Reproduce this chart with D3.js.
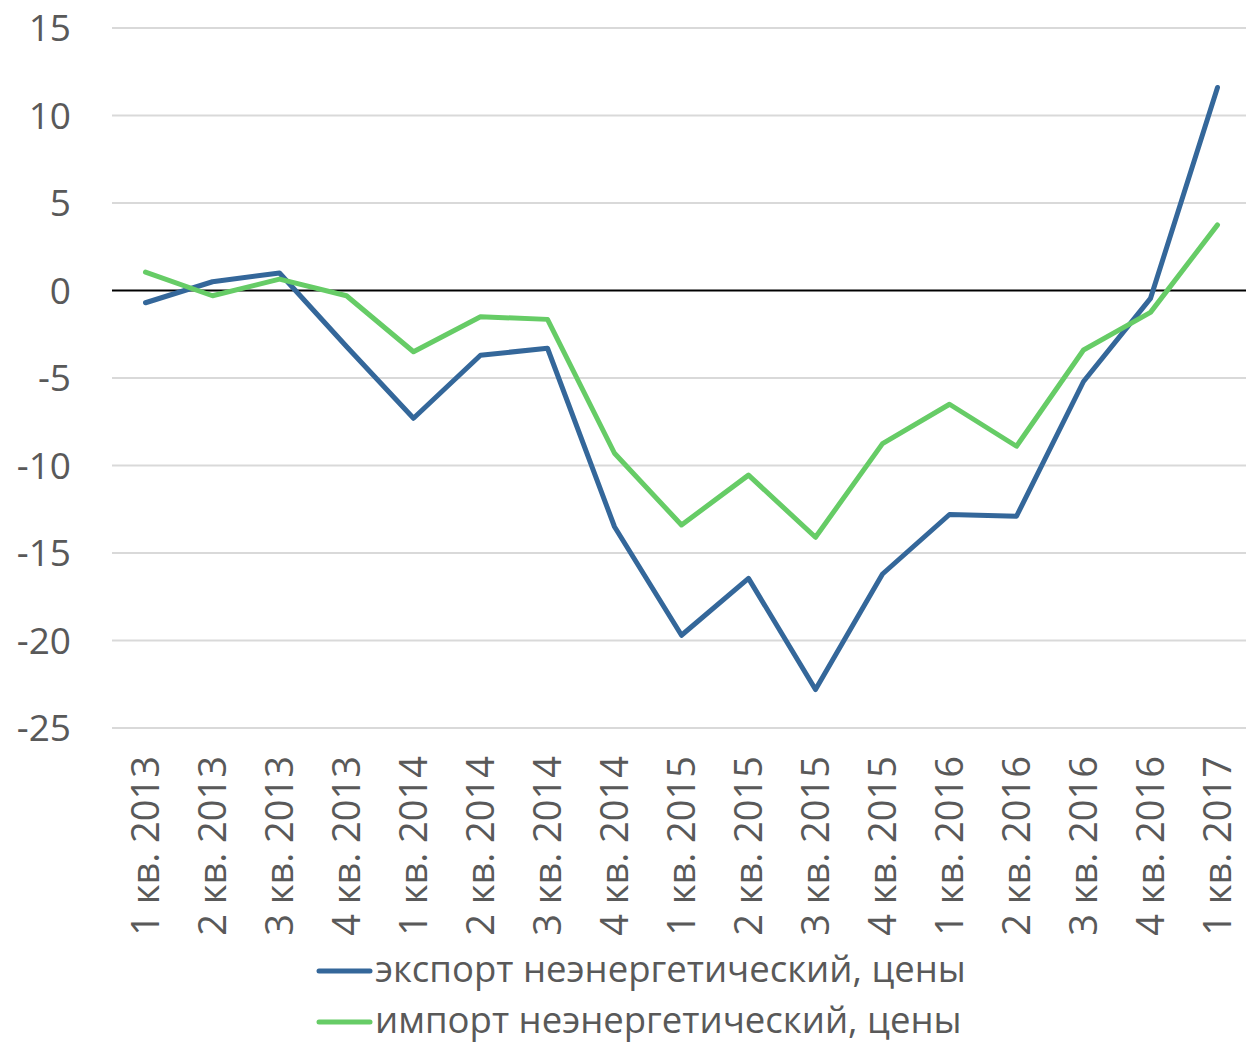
<!DOCTYPE html>
<html>
<head>
<meta charset="utf-8">
<script src="https://cdn.jsdelivr.net/npm/d3@7"></script>
<style>
  body { margin: 0; background: #fff; }
  svg text { font-family: "Open Sans", "Noto Sans", sans-serif; fill: #595959; }
</style>
</head>
<body>
<div id="chart"></div>
<script>
// quarters on the x axis
const quarters = [
    "1 кв. 2013", "2 кв. 2013", "3 кв. 2013", "4 кв. 2013",
    "1 кв. 2014", "2 кв. 2014", "3 кв. 2014", "4 кв. 2014",
    "1 кв. 2015", "2 кв. 2015", "3 кв. 2015", "4 кв. 2015",
    "1 кв. 2016", "2 кв. 2016", "3 кв. 2016", "4 кв. 2016",
    "1 кв. 2017"
];

const exportPrices = [-0.7, 0.5, 1.0, -3.2, -7.3, -3.7, -3.3, -13.5, -19.7, -16.45, -22.8, -16.2, -12.8, -12.9, -5.2, -0.45, 11.6];
const importPrices = [1.05, -0.3, 0.65, -0.3, -3.5, -1.5, -1.65, -9.3, -13.4, -10.55, -14.1, -8.75, -6.5, -8.9, -3.4, -1.25, 3.75];

const yTicks = [15, 10, 5, 0, -5, -10, -15, -20, -25];

const seriesNames = ["экспорт неэнергетический, цены", "импорт неэнергетический, цены"];
const seriesColors = ["#34679a", "#66cc66"];

function draw() {
    const W = 1246, H = 1045;
    const margin = { top: 28, left: 112, bottom: 317 };
    const plotRight = 1251;

    const svg = d3.select("#chart")
        .append("svg")
        .attr("width", W)
        .attr("height", H);

    const x = d3.scaleBand()
        .domain(quarters)
        .range([margin.left, plotRight]);

    const y = d3.scaleLinear()
        .domain([-25, 15])
        .range([H - margin.bottom, margin.top]);

    // horizontal gridlines
    svg.append("g")
        .selectAll("line")
        .data(yTicks.filter(d => d !== 0))
        .join("line")
        .attr("x1", margin.left)
        .attr("x2", plotRight)
        .attr("y1", d => y(d))
        .attr("y2", d => y(d))
        .attr("stroke", "#d9d9d9")
        .attr("stroke-width", 2);

    // y labels
    svg.append("g")
        .selectAll("text")
        .data(yTicks)
        .join("text")
        .attr("x", 71)
        .attr("y", d => y(d))
        .attr("dy", "0.36em")
        .attr("text-anchor", "end")
        .style("font-size", "37px")
        .text(d => d);

    // zero axis
    svg.append("line")
        .attr("x1", margin.left)
        .attr("x2", plotRight)
        .attr("y1", y(0))
        .attr("y2", y(0))
        .attr("stroke", "#000")
        .attr("stroke-width", 2);

    // x labels, rotated
    svg.append("g")
        .selectAll("text")
        .data(quarters)
        .join("text")
        .attr("transform", d => `translate(${x(d) + x.bandwidth() / 2},${y(-25) + 28}) rotate(-90)`)
        .attr("dy", "0.36em")
        .attr("text-anchor", "end")
        .style("font-size", "38px")
        .text(d => d);

    const line = d3.line()
        .x((d, i) => x(quarters[i]) + x.bandwidth() / 2)
        .y(d => y(d));

    [exportPrices, importPrices].forEach((vals, k) => {
        svg.append("path")
            .datum(vals)
            .attr("fill", "none")
            .attr("stroke", seriesColors[k])
            .attr("stroke-width", 5)
            .attr("stroke-linejoin", "round")
            .attr("stroke-linecap", "round")
            .attr("d", line);
    });

    // legend
    const legend = svg.append("g");
    seriesNames.forEach((name, k) => {
        const ly = 971 + k * 51;
        legend.append("line")
            .attr("x1", 319).attr("x2", 370)
            .attr("y1", ly).attr("y2", ly)
            .attr("stroke", seriesColors[k])
            .attr("stroke-width", 5)
            .attr("stroke-linecap", "round");
        legend.append("text")
            .attr("x", 375)
            .attr("y", ly)
            .attr("dy", "0.3em")
            .style("font-size", "36.5px")
            .text(name);
    });
}

draw();
</script>
</body>
</html>
